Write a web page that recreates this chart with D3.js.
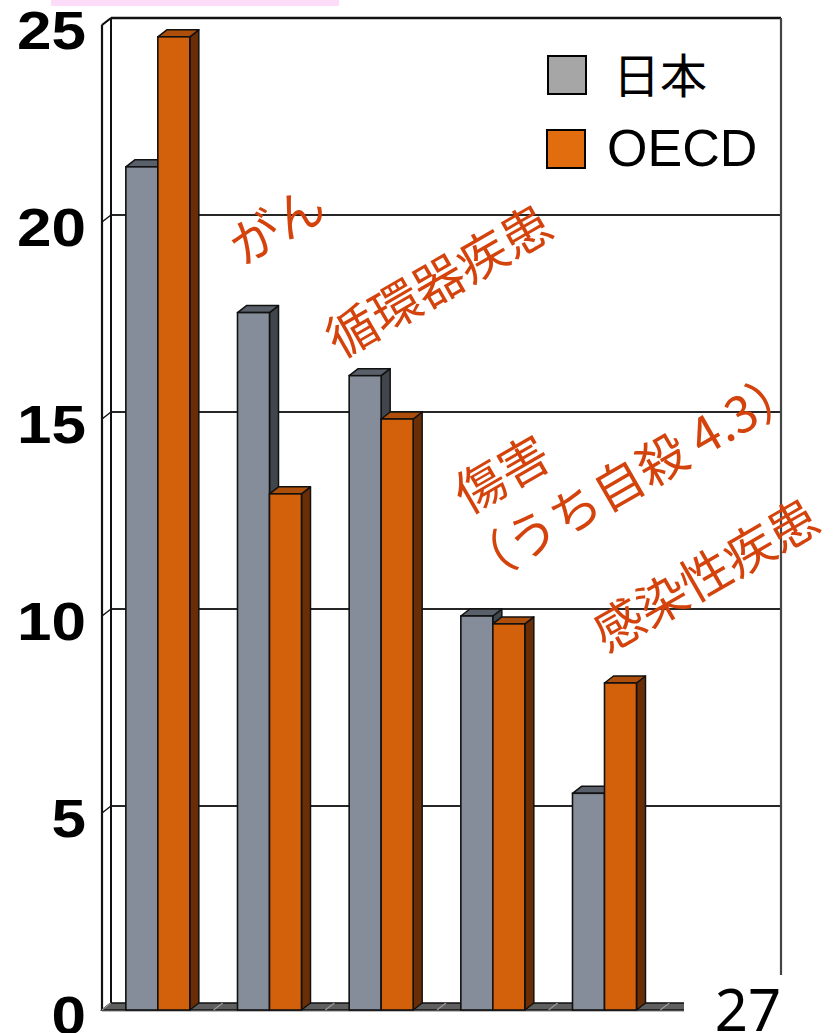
<!DOCTYPE html>
<html>
<head>
<meta charset="utf-8">
<script src="https://cdn.jsdelivr.net/npm/d3@7"></script>
<style>
  html, body { margin: 0; padding: 0; background: #fff; }
  svg { display: block; }
</style>
</head>
<body>
<svg id="chart" width="835" height="1033"></svg>
<script>
// Burden of disease share (%) by cause: Japan vs OECD
const categories = ["c1", "c2", "c3", "c4", "c5"];
const seriesNames = ["日本", "OECD"];
const japanValues = [21.4, 17.7, 16.1, 10.0, 5.5];
const oecdValues = [24.7, 13.1, 15.0, 9.8, 8.3];
const yTicks = [0, 5, 10, 15, 20, 25];
const annotationLines = ["がん", "循環器疾患", "傷害", "（うち自殺 4.3）", "感染性疾患"];
const pageNumber = "27";

// layout
const svg = d3.select("#chart");
const depthX = 9, depthY = 7;            // 3-D offset of the back wall
const wallLeftFront = 102, wallRightBack = 781;
const floorFront = 1010;
const slotCount = 6;                     // one empty slot on the right for the legend
const frontRight = wallRightBack - depthX;

const y = d3.scaleLinear().domain([0, 25]).range([floorFront - depthY, 18]);
const x = d3.scaleBand()
  .domain(categories)
  .range([wallLeftFront, wallLeftFront + (frontRight - wallLeftFront) * categories.length / slotCount])
  .paddingInner(0.427)
  .paddingOuter(0.2135);
const xs = d3.scaleBand().domain(seriesNames).range([0, x.bandwidth()]);

const palette = {
  "日本": { front: "#868d9a", top: "#5a6069", side: "#41464d", legend: "#a6a6a6" },
  "OECD": { front: "#d3600b", top: "#ad4e0a", side: "#6a2e06", legend: "#e26d0f" }
};
const ink = "#111";

// page marker strip at the top
svg.append("rect").attr("x", 51).attr("y", 0).attr("width", 288).attr("height", 6)
  .attr("fill", "#fcdcf8");

// back wall
const backLeft = wallLeftFront + depthX;
svg.append("rect")
  .attr("x", backLeft).attr("y", y(25))
  .attr("width", wallRightBack - backLeft).attr("height", y(0) - y(25))
  .attr("fill", "#fff");

// gridlines on the back wall and their continuation across the side wall
const grid = svg.append("g");
grid.selectAll("line.back")
  .data(yTicks.filter(t => t > 0 && t < 25))
  .join("line")
  .attr("x1", backLeft).attr("x2", wallRightBack)
  .attr("y1", d => y(d)).attr("y2", d => y(d))
  .attr("stroke", "#262626").attr("stroke-width", 1.8);
grid.selectAll("line.side")
  .data(yTicks)
  .join("line")
  .attr("x1", wallLeftFront).attr("x2", backLeft)
  .attr("y1", d => y(d) + depthY).attr("y2", d => y(d))
  .attr("stroke", ink).attr("stroke-width", 1.5);

// top border and right border of the back wall
svg.append("line").attr("x1", backLeft).attr("x2", wallRightBack)
  .attr("y1", y(25)).attr("y2", y(25)).attr("stroke", ink).attr("stroke-width", 2.4);
svg.append("line").attr("x1", wallRightBack).attr("x2", wallRightBack)
  .attr("y1", y(25)).attr("y2", y(0)).attr("stroke", "#444").attr("stroke-width", 2.2);

// left side wall edges
svg.append("line").attr("x1", wallLeftFront).attr("x2", wallLeftFront)
  .attr("y1", y(25) + depthY).attr("y2", floorFront).attr("stroke", ink).attr("stroke-width", 2.2);
svg.append("line").attr("x1", backLeft).attr("x2", backLeft)
  .attr("y1", y(25)).attr("y2", y(0)).attr("stroke", ink).attr("stroke-width", 2);
svg.append("line").attr("x1", wallLeftFront).attr("x2", backLeft)
  .attr("y1", y(25) + depthY).attr("y2", y(25)).attr("stroke", ink).attr("stroke-width", 2);

// floor
svg.append("polygon")
  .attr("points", [[wallLeftFront, floorFront], [frontRight, floorFront],
                   [wallRightBack, y(0)], [backLeft, y(0)]].join(" "))
  .attr("fill", "#5f5f5f").attr("stroke", ink).attr("stroke-width", 1.4);
const boundaries = d3.range(slotCount + 1).map(i => wallLeftFront + i * x.step());
svg.append("g").selectAll("line")
  .data(boundaries)
  .join("line")
  .attr("x1", d => d).attr("x2", d => d + depthX)
  .attr("y1", floorFront).attr("y2", y(0))
  .attr("stroke", "#9a9a9a").attr("stroke-width", 1.2);
svg.append("line").attr("x1", wallLeftFront).attr("x2", frontRight)
  .attr("y1", floorFront + 1.5).attr("y2", floorFront + 1.5)
  .attr("stroke", "#bdbdbd").attr("stroke-width", 1.2);

// 3-D columns
const rows = categories.map((c, i) => ({
  category: c,
  values: [{ name: "日本", v: japanValues[i] }, { name: "OECD", v: oecdValues[i] }]
}));
const groups = svg.append("g").selectAll("g")
  .data(rows)
  .join("g")
  .attr("transform", d => `translate(${x(d.category)},0)`);

groups.each(function (row) {
  const g = d3.select(this);
  row.values.forEach(s => {
    const x0 = xs(s.name), x1 = x0 + xs.bandwidth();
    const top = y(s.v) + depthY;
    const col = palette[s.name];
    g.append("polygon")
      .attr("points", [[x1, top], [x1 + depthX, top - depthY], [x1 + depthX, y(0)], [x1, floorFront]].join(" "))
      .attr("fill", col.side).attr("stroke", ink).attr("stroke-width", 1.5).attr("stroke-linejoin", "round");
    g.append("polygon")
      .attr("points", [[x0, top], [x1, top], [x1 + depthX, top - depthY], [x0 + depthX, top - depthY]].join(" "))
      .attr("fill", col.top).attr("stroke", ink).attr("stroke-width", 1.5).attr("stroke-linejoin", "round");
    g.append("rect")
      .attr("x", x0).attr("y", top)
      .attr("width", x1 - x0).attr("height", floorFront - top)
      .attr("fill", col.front).attr("stroke", ink).attr("stroke-width", 1.6);
  });
});

// y-axis labels
svg.append("g").selectAll("text")
  .data(yTicks)
  .join("text")
  .attr("transform", d => `translate(86,${y(d) + 31}) scale(1.17,1)`)
  .attr("text-anchor", "end")
  .attr("font-family", "'Liberation Sans', Arial, sans-serif")
  .attr("font-weight", "bold")
  .attr("font-size", 53)
  .attr("fill", "#000")
  .text(d => d);

// legend
const legend = svg.append("g");
const legendRows = [
  { name: "日本", sx: 548, sy: 56, tx: 613, ty: 93, size: 47, family: "'Noto Sans CJK JP', sans-serif" },
  { name: "OECD", sx: 547, sy: 130, tx: 607, ty: 166, size: 52, family: "'Liberation Sans', Arial, sans-serif" }
];
legendRows.forEach(r => {
  legend.append("rect").attr("x", r.sx).attr("y", r.sy).attr("width", 38).attr("height", 38)
    .attr("fill", palette[r.name].legend).attr("stroke", "#000").attr("stroke-width", 2);
  legend.append("text").attr("x", r.tx).attr("y", r.ty)
    .attr("font-family", r.family).attr("font-size", r.size).attr("fill", "#000")
    .text(r.name);
});

// cause annotations, set on a diagonal
const annotationPlacement = [
  { cx: 275, cy: 222 },
  { cx: 437, cy: 278 },
  { cx: 500, cy: 471 },
  { cx: 630, cy: 474 },
  { cx: 704, cy: 572 }
];
svg.append("g").selectAll("text")
  .data(annotationLines.map((t, i) => ({ t, p: annotationPlacement[i] })))
  .join("text")
  .attr("transform", d => `translate(${d.p.cx},${d.p.cy}) rotate(-30)`)
  .attr("text-anchor", "middle")
  .attr("dominant-baseline", "central")
  .attr("font-family", "'Noto Sans CJK JP', sans-serif")
  .attr("font-size", 50)
  .attr("fill", "#d4430c")
  .text(d => d.t);

// page number box at the lower right
svg.append("rect").attr("x", 684).attr("y", 975).attr("width", 151).attr("height", 58).attr("fill", "#fff");
svg.append("text")
  .attr("transform", "translate(748,1031)")
  .attr("text-anchor", "middle")
  .attr("font-family", "'Noto Sans', sans-serif")
  .attr("font-size", 58)
  .attr("fill", "#000")
  .text(pageNumber);
</script>
</body>
</html>
